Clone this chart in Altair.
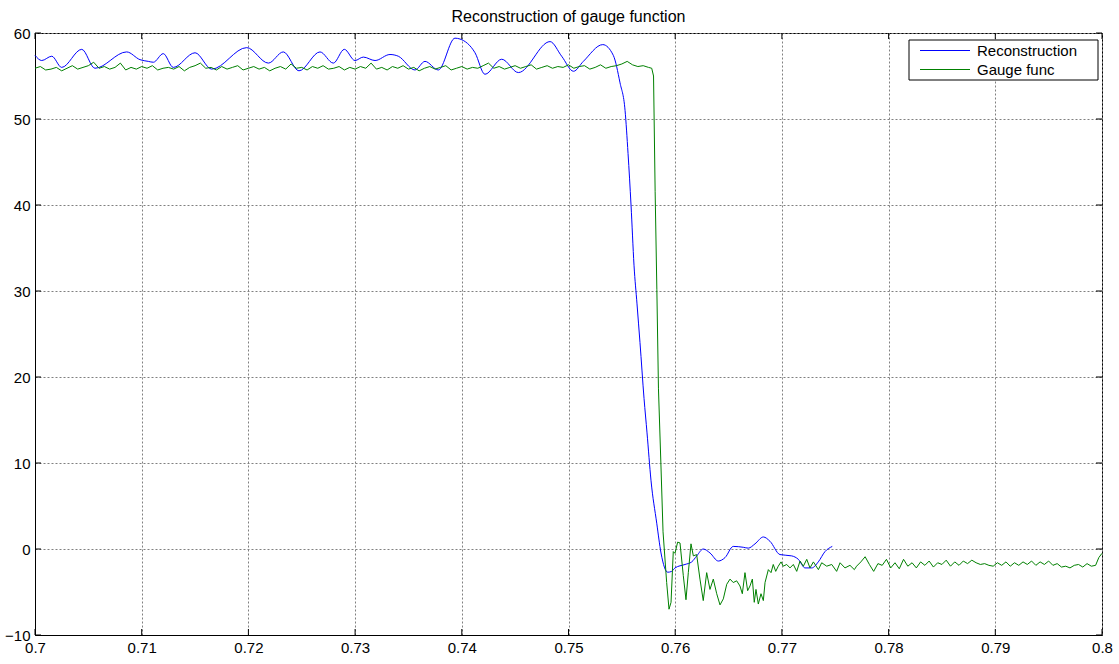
import altair as alt
import pandas as pd
import numpy as np

# ---------------- data ----------------
recon_x = [0.70000, 0.70063, 0.70157, 0.70250, 0.70438, 0.70562, 0.70859, 0.70984,
           0.71062, 0.71109, 0.71202, 0.71296, 0.71500, 0.71656, 0.71984, 0.72187,
           0.72327, 0.72474, 0.72671, 0.72796, 0.72899, 0.72999, 0.73077, 0.73187,
           0.73327, 0.73405, 0.73561, 0.73655, 0.73780, 0.73936, 0.73983, 0.74124,
           0.74217, 0.74374, 0.74530, 0.74827, 0.74936, 0.75047, 0.75139, 0.75321,
           0.75420, 0.75483, 0.75530, 0.75558, 0.75586, 0.75614, 0.75642, 0.75670,
           0.75708, 0.75736, 0.75773, 0.75827, 0.75867, 0.75930, 0.75967, 0.75998,
           0.76092, 0.76155, 0.76202, 0.76263, 0.76326, 0.76404, 0.76467, 0.76544,
           0.76638, 0.76685, 0.76748, 0.76826, 0.76888, 0.76982, 0.77092, 0.77154,
           0.77217, 0.77280, 0.77341, 0.77404, 0.77472]
recon_y = [57.4, 56.8, 57.3, 56.0, 58.1, 55.9, 57.8, 56.9,
           56.7, 56.6, 57.6, 56.0, 57.7, 55.8, 58.3, 56.5,
           57.8, 55.6, 57.8, 56.5, 58.1, 56.8, 57.2, 56.8,
           57.5, 57.3, 55.7, 56.7, 55.7, 59.4, 59.3, 57.7,
           55.2, 56.95, 55.4, 59.0, 57.3, 55.55, 56.7, 58.65,
           57.4, 54.2, 51.0, 46.0, 40.0, 33.0, 28.5, 24.0,
           17.5, 13.5, 8.0, 3.0, -0.46, -2.7, -2.6, -2.2,
           -1.8, -1.5, -0.8, 0.0, -0.46, -1.4, -1.0, 0.3,
           0.2, 0.1, 0.6, 1.4, 0.9, -0.65, -0.8, -1.2,
           -2.2, -2.2, -1.5, -0.3, 0.3]

# gauge function, flat part: sampled every 0.0005 from 0.700
gauge_flat_start = 0.700
gauge_flat_step = 0.0005
gauge_flat_y = [55.9, 56.1, 55.7, 55.8, 56.0, 55.6, 55.9, 56.2, 55.8, 56.0,
                56.2, 56.6, 55.9, 56.1, 55.8, 56.0, 56.5, 55.7, 56.0, 55.8,
                56.1, 55.9, 56.2, 55.7, 55.9, 56.0, 55.8, 56.1, 55.6, 56.0,
                56.2, 56.5, 55.9, 56.0, 55.7, 56.1, 55.8, 56.0, 56.2, 55.7,
                55.9, 56.1, 55.8, 56.0, 55.6, 55.9, 56.1, 55.8, 56.4, 55.9,
                56.0, 55.7, 56.1, 55.9, 56.2, 55.8, 55.9, 56.1, 55.7, 56.0,
                55.8, 56.1, 55.9, 56.5, 55.8, 56.0, 55.7, 56.1, 55.9, 56.2,
                55.8, 56.0, 55.6, 55.9, 56.1, 55.8, 56.0, 56.2, 55.7, 55.9,
                56.1, 55.8, 56.0, 55.9, 56.2, 56.5, 55.9, 56.1, 55.8, 56.0,
                56.2, 55.9, 56.1, 56.3, 55.8, 56.0, 56.2, 55.9, 56.1, 56.0,
                56.3, 55.9, 56.1, 56.2, 55.8, 56.0, 56.3, 55.9, 56.1, 56.2,
                56.4, 56.7, 56.3, 56.1, 56.2, 56.0]

# gauge function, drop and ringing (irregular samples)
gauge_drop_x = [0.75780, 0.75797, 0.75812, 0.75828, 0.75843, 0.75866, 0.75886,
                0.75920, 0.75942, 0.75961, 0.75982, 0.75998, 0.76023, 0.76045,
                0.76076, 0.76101, 0.76123, 0.76148, 0.76170, 0.76201, 0.76232,
                0.76263, 0.76295, 0.76326, 0.76357, 0.76389, 0.76420, 0.76451,
                0.76483, 0.76514, 0.76544, 0.76576, 0.76607, 0.76629, 0.76654,
                0.76679, 0.76701, 0.76723, 0.76741, 0.76757, 0.76779, 0.76804,
                0.76826, 0.76842, 0.76873, 0.76898, 0.76919, 0.76942, 0.76966,
                0.76992, 0.77013, 0.77045, 0.77076, 0.77107, 0.77139, 0.77170,
                0.77201, 0.77233, 0.77263, 0.77295, 0.77342, 0.77373, 0.77420,
                0.77467, 0.77513, 0.77545, 0.77591, 0.77638, 0.77679]
gauge_drop_y = [55.9, 55.0, 41.6, 30.2, 18.7, 9.9, 2.0,
                -3.9, -7.0, -6.2, -0.3, -0.5, 0.8, 0.7,
                -3.1, -5.9, -2.75, 0.6, -0.8, -0.65, -3.5,
                -6.0, -2.75, -4.7, -3.5, -5.2, -6.5, -5.8,
                -4.1, -3.5, -3.9, -3.7, -4.3, -5.2, -2.75,
                -4.85, -4.3, -3.5, -6.2, -4.7, -6.4, -5.2,
                -6.0, -3.9, -2.4, -2.75, -1.8, -2.6, -2.0,
                -1.5, -2.0, -1.8, -2.2, -1.8, -2.6, -1.4,
                -2.0, -1.2, -2.2, -1.5, -2.4, -1.6, -2.0,
                -1.8, -2.6, -1.6, -2.2, -1.9, -2.4]

# gauge function, tail: sampled every 0.0004 from 0.7770
gauge_tail_start = 0.7770
gauge_tail_step = 0.0004
gauge_tail_y = [-2.0, -1.5, -0.9, -1.8, -2.6, -1.7, -1.9, -1.2, -2.2, -1.6,
                -2.3, -1.2, -2.0, -1.6, -2.2, -1.5, -1.9, -1.4, -2.1, -1.6,
                -1.8, -1.3, -2.0, -1.5, -1.9, -1.4, -1.7, -1.3, -1.6, -1.8,
                -1.7, -1.9, -2.0, -1.6, -1.9, -1.5, -2.0, -1.6, -1.9, -1.5,
                -1.8, -1.4, -1.9, -1.5, -1.8, -1.4, -1.9, -1.7, -2.1, -2.0,
                -2.2, -1.9, -1.8, -2.1, -1.7, -2.0, -1.9]
gauge_end_x = [0.79970, 0.80000]
gauge_end_y = [-1.0, -0.5]

series_names = ["Reconstruction", "Gauge func"]
series_colors = ["#0000ff", "#008000"]
x_ticks = [0.70, 0.71, 0.72, 0.73, 0.74, 0.75, 0.76, 0.77, 0.78, 0.79, 0.80]
y_ticks = [-10, 0, 10, 20, 30, 40, 50, 60]
title_text = "Reconstruction of gauge function"

# ---------------- tables ----------------
recon_df = pd.DataFrame({"x": recon_x, "y": recon_y, "series": series_names[0]})
flat_x = [round(gauge_flat_start + i * gauge_flat_step, 5) for i in range(len(gauge_flat_y))]
tail_x = [round(gauge_tail_start + i * gauge_tail_step, 5) for i in range(len(gauge_tail_y))]
gauge_df = pd.DataFrame({
    "x": flat_x + gauge_drop_x + tail_x + gauge_end_x,
    "y": gauge_flat_y + gauge_drop_y + gauge_tail_y + gauge_end_y,
    "series": series_names[1],
})
xt_df = pd.DataFrame({"x": x_ticks})
yt_df = pd.DataFrame({"y": y_ticks})

FONT = "Liberation Sans"
FS = 15

cscale = alt.Scale(domain=series_names, range=series_colors)
color = alt.Color("series:N", scale=cscale, legend=None)

xscale = alt.Scale(domain=[0.7, 0.8], nice=False, zero=False)
yscale = alt.Scale(domain=[-10, 60], nice=False, zero=False)

xaxis = alt.Axis(values=x_ticks, format=".2~f", title=None, grid=True,
                 labelFont=FONT, labelFontSize=FS, labelColor="black",
                 labelPadding=5, ticks=False, domainColor="black",
                 labelFlush=False)
yaxis = alt.Axis(values=y_ticks, title=None, grid=True,
                 labelFont=FONT, labelFontSize=FS, labelColor="black",
                 labelPadding=5, ticks=False, domainColor="black")
xenc = alt.X("x:Q", scale=xscale, axis=xaxis)
yenc = alt.Y("y:Q", scale=yscale, axis=yaxis)

recon = alt.Chart(recon_df).mark_line(strokeWidth=1, interpolate="monotone").encode(
    x=xenc, y=yenc, color=color
)
gauge = alt.Chart(gauge_df).mark_line(strokeWidth=1).encode(
    x=xenc, y=yenc, color=color
)

# inward ticks (MATLAB style) on all four sides
tick_x_top = alt.Chart(xt_df).mark_rule(color="black", strokeWidth=1).encode(
    x=xenc, y=alt.value(0), y2=alt.value(6))
tick_x_bot = alt.Chart(xt_df).mark_rule(color="black", strokeWidth=1).encode(
    x=xenc, y=alt.value(596), y2=alt.value(602))
tick_y_left = alt.Chart(yt_df).mark_rule(color="black", strokeWidth=1).encode(
    y=yenc, x=alt.value(0), x2=alt.value(6))
tick_y_right = alt.Chart(yt_df).mark_rule(color="black", strokeWidth=1).encode(
    y=yenc, x=alt.value(1061), x2=alt.value(1067))

# legend box drawn by hand (MATLAB style)
leg_box = alt.Chart(pd.DataFrame({"series": [series_names[0]]})).mark_rect(
    fill="white", stroke="black", strokeWidth=1
).encode(x=alt.value(874), x2=alt.value(1063), y=alt.value(7), y2=alt.value(47))

legend_layers = [leg_box]
row_y = [17.5, 36.5]
for name, ry in zip(series_names, row_y):
    d = pd.DataFrame({"series": [name]})
    legend_layers.append(
        alt.Chart(d).mark_rule(strokeWidth=1).encode(
            x=alt.value(885), x2=alt.value(935), y=alt.value(ry),
            color=alt.Color("series:N", scale=cscale, legend=None))
    )
    legend_layers.append(
        alt.Chart(d).mark_text(align="left", baseline="middle", font=FONT,
                               fontSize=FS, color="black").encode(
            x=alt.value(942), y=alt.value(ry), text="series:N")
    )

chart = alt.layer(
    recon, gauge, tick_x_top, tick_x_bot, tick_y_left, tick_y_right, *legend_layers
).properties(
    width=1067,
    height=602,
    padding={"left": 35, "top": 33, "right": 17, "bottom": 29},
    autosize=alt.AutoSizeParams(type="none"),
    title=alt.TitleParams(
        title_text,
        font=FONT, fontSize=16, fontWeight="normal", color="black",
        anchor="middle", frame="group", offset=1,
    ),
).configure_view(
    stroke="black", strokeWidth=1
).configure_axis(
    gridColor="#808080", gridDash=[2, 2], gridOpacity=1, gridWidth=1,
    domainWidth=1,
)

chart.save("out.html", embed_options={"renderer": "svg", "actions": False})
